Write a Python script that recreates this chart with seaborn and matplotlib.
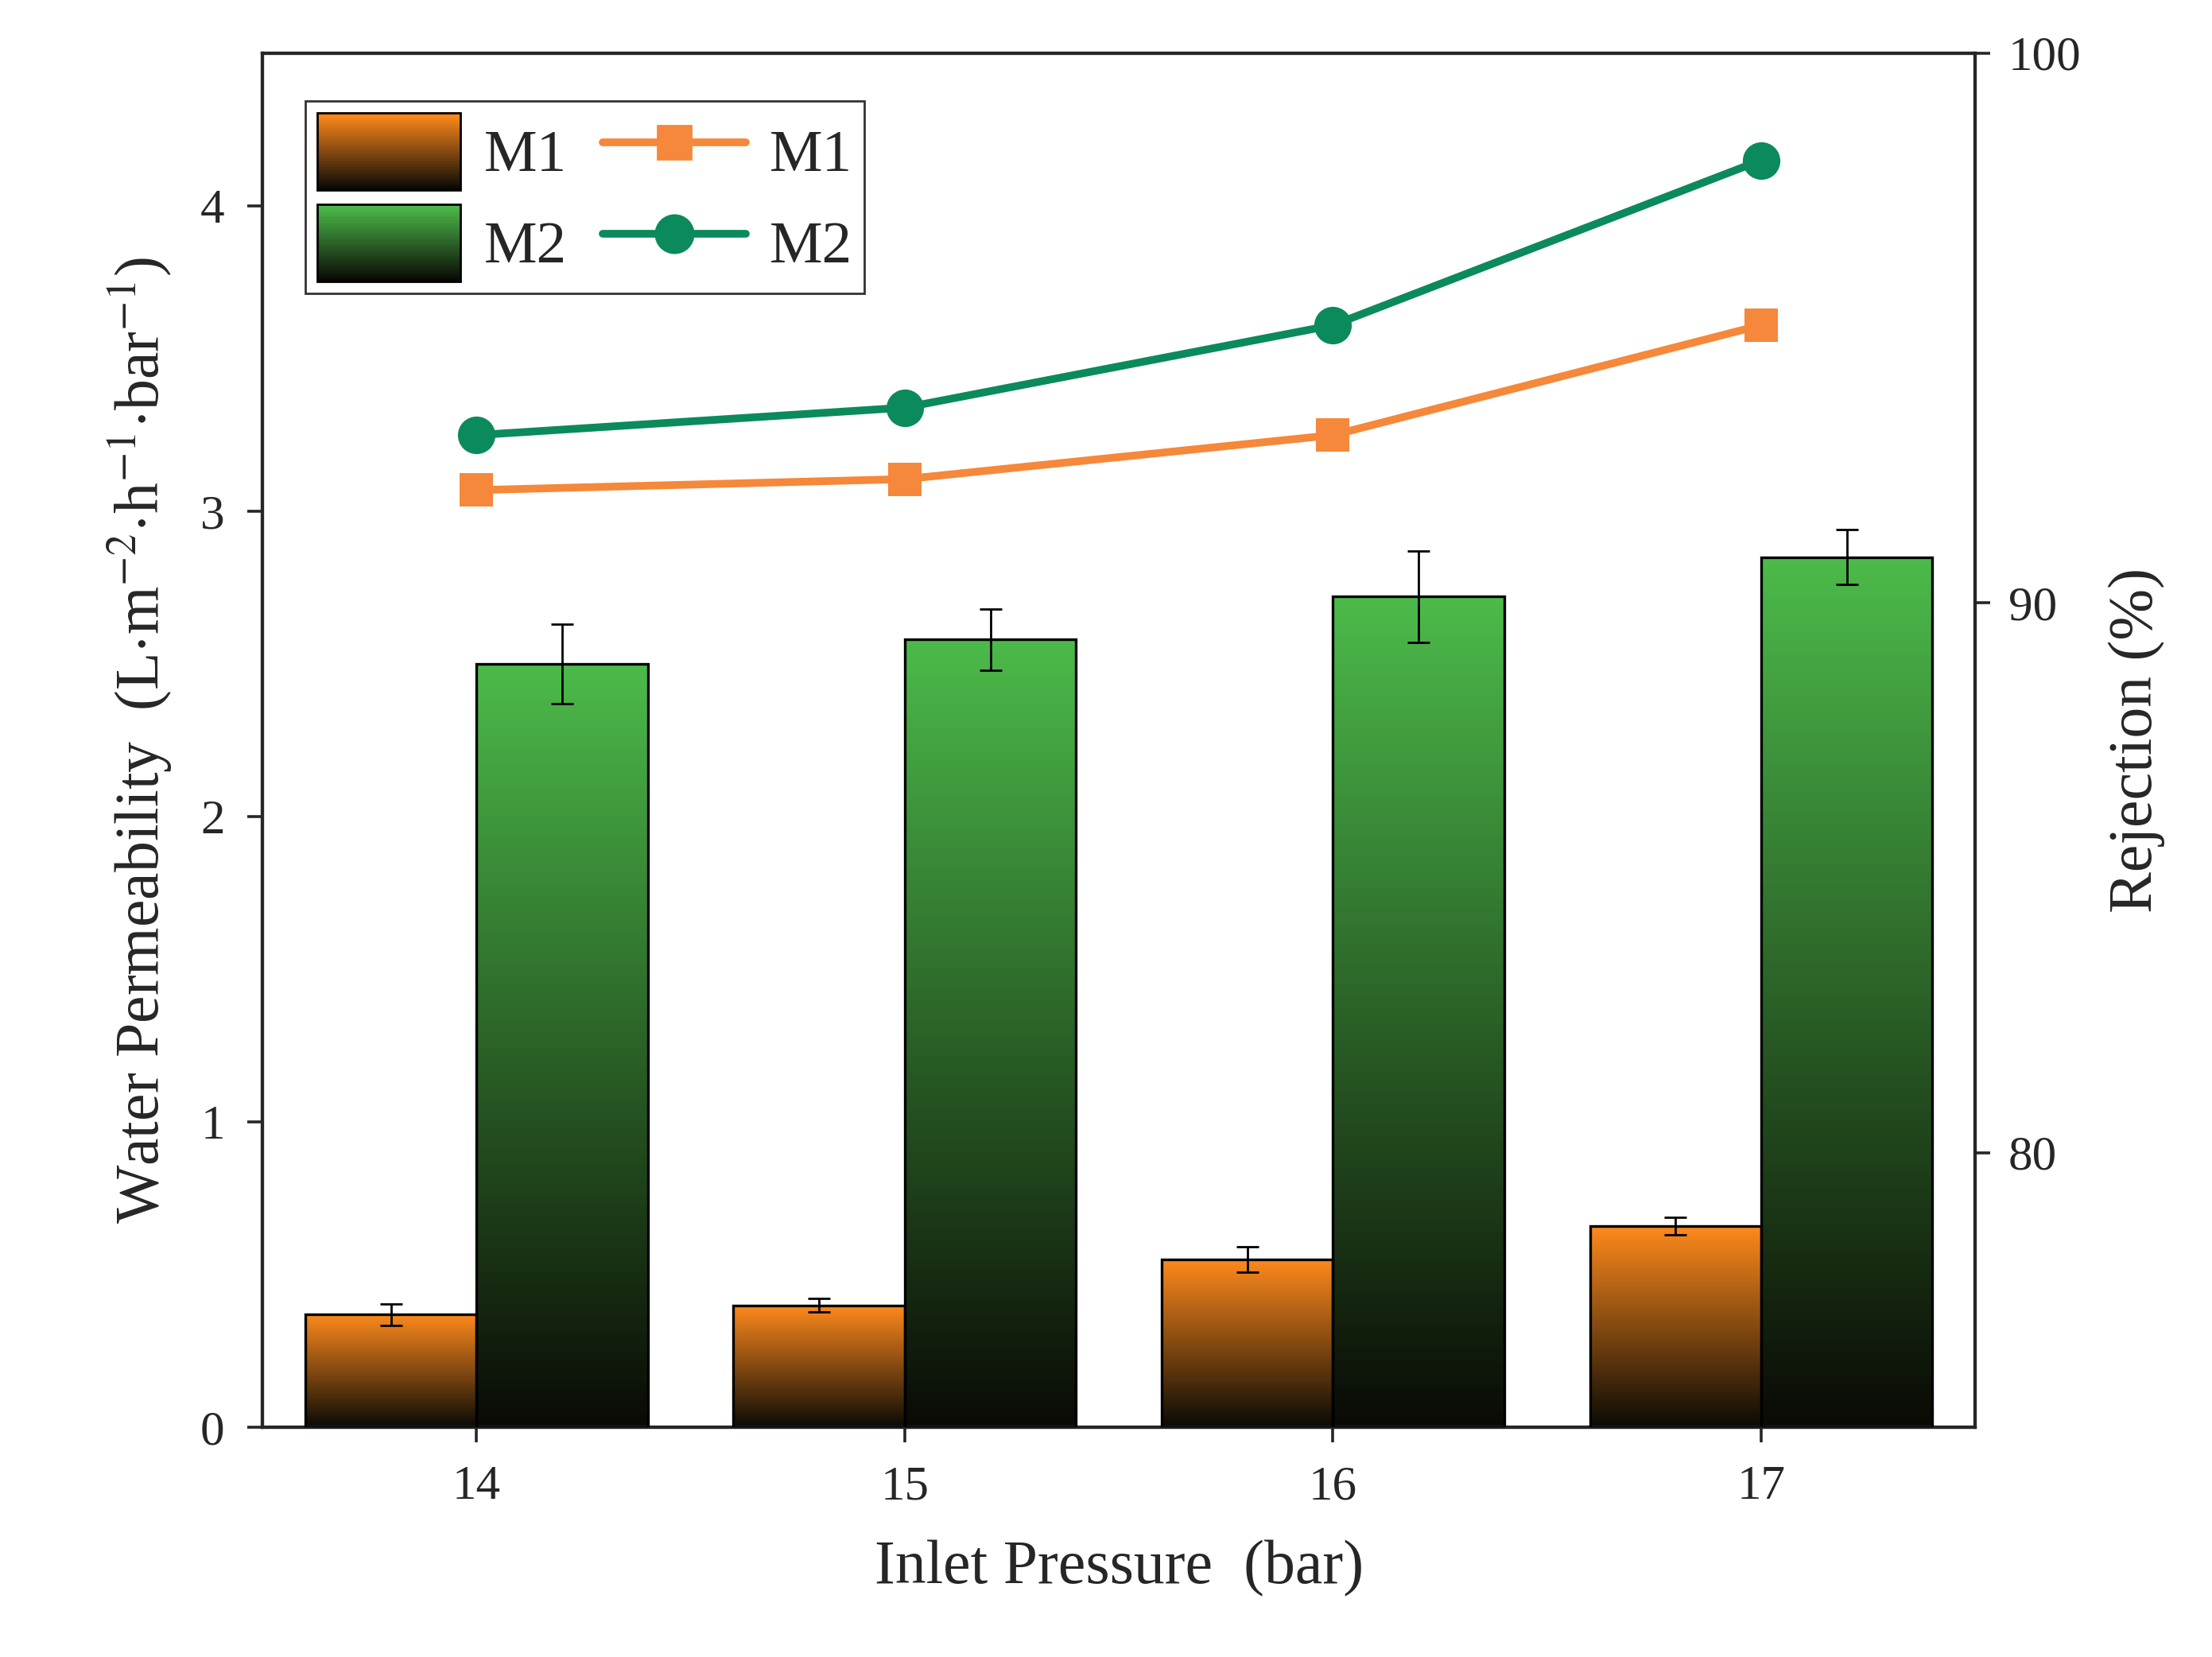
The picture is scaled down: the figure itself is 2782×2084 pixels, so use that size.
import matplotlib
matplotlib.use("Agg")
import matplotlib.pyplot as plt
import matplotlib.colors as mcolors
from matplotlib.patches import Rectangle
from matplotlib.legend_handler import HandlerBase
import seaborn as sb
import pandas as pd
import numpy as np

pressures = ["14", "15", "16", "17"]
perm_m1 = [0.37, 0.40, 0.55, 0.66]
perm_m1_err = [0.035, 0.022, 0.042, 0.028]
perm_m2 = [2.50, 2.58, 2.72, 2.85]
perm_m2_err = [0.13, 0.10, 0.15, 0.09]
rej_m1 = [92.05, 92.25, 93.05, 95.05]
rej_m2 = [93.05, 93.55, 95.05, 98.05]

orange_top = "#ff8a1c"
green_top = "#4cbb4a"
dark = "#0a0a05"
line_orange = "#f5883a"
line_green = "#0b8a5c"

sb.set_style("ticks")
plt.rcParams["font.family"] = "serif"
plt.rcParams["font.serif"] = ["Liberation Serif"]
plt.rcParams["mathtext.fontset"] = "stix"

df = pd.DataFrame({
    "pressure": pressures * 2,
    "perm": perm_m1 + perm_m2,
    "membrane": ["M1"] * 4 + ["M2"] * 4,
})

fig = plt.figure(figsize=(13.91, 10.42), dpi=200)
ax = fig.add_axes([0.1186, 0.1385, 0.7744, 0.8295])
sb.barplot(data=df, x="pressure", y="perm", hue="membrane", errorbar=None,
           width=0.8, ax=ax, legend=False, zorder=2)


def gradient_cmap(top):
    return mcolors.LinearSegmentedColormap.from_list("g", [dark, top])


grad = np.linspace(0, 1, 256).reshape(-1, 1)
for cont, top, errs in zip(ax.containers, [orange_top, green_top], [perm_m1_err, perm_m2_err]):
    cmap = gradient_cmap(top)
    for p, e in zip(cont.patches, errs):
        x0, w, h = p.get_x(), p.get_width(), p.get_height()
        im = ax.imshow(grad, cmap=cmap, aspect="auto", origin="lower",
                       extent=[x0, x0 + w, 0, h], zorder=2)
        im.set_clip_path(p)
        p.set_facecolor("none")
        p.set_edgecolor("black")
        p.set_linewidth(1.2)
        p.set_zorder(3)
        ax.errorbar(x0 + w / 2, h, yerr=e, color="black", capsize=5,
                    elinewidth=1.0, capthick=1.0, zorder=4)

ax.set_xlim(-0.5, 3.5)
ax.set_ylim(0, 4.5)
ax.set_yticks([0, 1, 2, 3, 4])
ax.set_xlabel("Inlet Pressure  (bar)", fontsize=28, labelpad=14)
ax.set_ylabel(r"Water Permeability  (L$\cdot$m$^{-2}$$\cdot$h$^{-1}$$\cdot$bar$^{-1}$)",
              fontsize=28, labelpad=12)
ax.tick_params(labelsize=22, width=1.3, length=7, pad=10)

ax2 = ax.twinx()
xs = np.arange(len(pressures))
sb.lineplot(x=xs, y=rej_m1, ax=ax2, color=line_orange, marker="s", markersize=15,
            linewidth=3.5, markeredgewidth=0)
sb.lineplot(x=xs, y=rej_m2, ax=ax2, color=line_green, marker="o", markersize=17,
            linewidth=3.5, markeredgewidth=0)
ax2.set_ylim(75, 100)
ax2.set_yticks([80, 90, 100])
ax2.set_ylabel("Rejection (%)", fontsize=28, labelpad=12)
ax2.tick_params(labelsize=22, width=1.3, length=7, pad=8)
for a in (ax, ax2):
    for s in a.spines.values():
        s.set_linewidth(1.5)
        s.set_visible(True)


class GradHandler(HandlerBase):
    def __init__(self, top):
        super().__init__()
        self.top = top

    def create_artists(self, legend, orig_handle, xdescent, ydescent, width, height, fontsize, trans):
        cmap = gradient_cmap(self.top)
        n = 30
        arts = []
        for i in range(n):
            r = Rectangle((-xdescent, -ydescent + height * i / n), width, height / n + 0.3,
                          facecolor=cmap(i / (n - 1)), edgecolor="none", transform=trans)
            arts.append(r)
        arts.append(Rectangle((-xdescent, -ydescent), width, height, facecolor="none",
                              edgecolor="black", linewidth=1.0, transform=trans))
        return arts


h_b1 = Rectangle((0, 0), 1, 1)
h_b2 = Rectangle((0, 0), 1, 1)
h_l1, = ax.plot([], [], color=line_orange, marker="s", markersize=15, linewidth=3.5)
h_l2, = ax.plot([], [], color=line_green, marker="o", markersize=17, linewidth=3.5)
leg = ax.legend([h_b1, h_b2, h_l1, h_l2], ["M1", "M2", "M1", "M2"], ncol=2,
                loc="upper left", bbox_to_anchor=(0.025, 0.965), fontsize=27,
                frameon=True, fancybox=False, edgecolor="black", handlelength=2.4,
                handleheight=1.6, columnspacing=0.6, handletextpad=0.4,
                borderpad=0.2, labelspacing=0.25, borderaxespad=0,
                handler_map={h_b1: GradHandler(orange_top), h_b2: GradHandler(green_top)})
leg.get_frame().set_linewidth(1.0)
leg.set_zorder(10)
ax.set_zorder(ax2.get_zorder() + 1)
ax.patch.set_visible(False)

fig.savefig("out.png", dpi=200)
